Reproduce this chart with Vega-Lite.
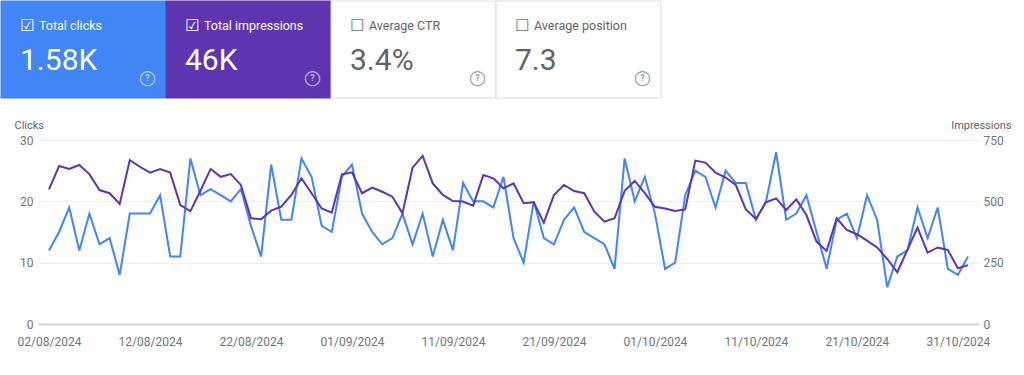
{
  "$schema": "https://vega.github.io/schema/vega-lite/v6.json",
  "padding": 0,
  "background": "white",
  "spacing": 20,
  "config": {
    "font": "Roboto",
    "view": {"stroke": null},
    "axis": {"labelFont": "Roboto", "titleFont": "Roboto"}
  },
  "vconcat": [
    {
      "width": 660,
      "height": 97,
      "data": {"values": [
        {"metric": "Total clicks", "value": "1.58K", "selected": true},
        {"metric": "Total impressions", "value": "46K", "selected": true},
        {"metric": "Average CTR", "value": "3.4%", "selected": false},
        {"metric": "Average position", "value": "7.3", "selected": false}
      ]},
      "encoding": {
        "x": {"field": "metric", "type": "nominal", "sort": null, "axis": null,
              "scale": {"type": "band", "paddingInner": 0, "paddingOuter": 0}}
      },
      "layer": [
        {
          "mark": {"type": "rect", "strokeWidth": 1},
          "encoding": {
            "fill": {"field": "metric", "type": "nominal", "legend": null,
                     "scale": {"domain": ["Total clicks", "Total impressions", "Average CTR", "Average position"],
                               "range": ["#4285f4", "#5e35b1", "#ffffff", "#ffffff"]}},
            "stroke": {"field": "metric", "type": "nominal", "legend": null,
                     "scale": {"domain": ["Total clicks", "Total impressions", "Average CTR", "Average position"],
                               "range": ["#4285f4", "#5e35b1", "#dadce0", "#dadce0"]}}
          }
        },
        {
          "mark": {"type": "text", "font": "DejaVu Sans", "fontSize": 16, "align": "center", "baseline": "middle", "dx": 26.5, "dy": -23.5},
          "encoding": {
            "x": {"field": "metric", "type": "nominal", "sort": null, "bandPosition": 0},
            "text": {"condition": {"test": "datum.selected", "value": "☑"}, "value": "☐"},
            "color": {"condition": {"test": "datum.selected", "value": "#ffffff"}, "value": "#70757a"}
          }
        },
        {
          "mark": {"type": "text", "fontSize": 12.5, "align": "left", "baseline": "alphabetic", "dx": 38, "dy": -19.2},
          "encoding": {
            "x": {"field": "metric", "type": "nominal", "sort": null, "bandPosition": 0},
            "text": {"field": "metric"},
            "color": {"condition": {"test": "datum.selected", "value": "#ffffff"}, "value": "#5f6368"}
          }
        },
        {
          "mark": {"type": "text", "fontSize": 30, "align": "left", "baseline": "alphabetic", "dx": 19, "dy": 20.5},
          "encoding": {
            "x": {"field": "metric", "type": "nominal", "sort": null, "bandPosition": 0},
            "text": {"field": "value"},
            "color": {"condition": {"test": "datum.selected", "value": "#ffffff"}, "value": "#5f6368"}
          }
        },
        {
          "mark": {"type": "text", "font": "DejaVu Sans", "fontSize": 20, "align": "center", "baseline": "middle", "dx": 146.5, "dy": 28},
          "encoding": {
            "x": {"field": "metric", "type": "nominal", "sort": null, "bandPosition": 0},
            "text": {"value": "○"},
            "color": {"condition": {"test": "datum.selected", "value": "rgba(255,255,255,0.6)"}, "value": "#9aa0a6"}
          }
        },
        {
          "mark": {"type": "text", "fontSize": 9, "fontWeight": "bold", "align": "center", "baseline": "middle", "dx": 146.5, "dy": 28.5},
          "encoding": {
            "x": {"field": "metric", "type": "nominal", "sort": null, "bandPosition": 0},
            "text": {"value": "?"},
            "color": {"condition": {"test": "datum.selected", "value": "rgba(255,255,255,0.6)"}, "value": "#9aa0a6"}
          }
        }
      ]
    },
    {
      "spacing": 0,
      "hconcat": [
        {
          "width": 13,
          "height": 10,
          "data": {"values": [{"blank": ""}]},
          "mark": {"type": "text"},
          "encoding": {"text": {"field": "blank"}}
        },
        {
          "width": 941,
          "height": 184,
          "data": {"values": [
            {"date": "2024-08-02", "clicks": 12, "impressions": 549},
            {"date": "2024-08-03", "clicks": 15, "impressions": 644},
            {"date": "2024-08-04", "clicks": 19, "impressions": 632},
            {"date": "2024-08-05", "clicks": 12, "impressions": 648},
            {"date": "2024-08-06", "clicks": 18, "impressions": 611},
            {"date": "2024-08-07", "clicks": 13, "impressions": 546},
            {"date": "2024-08-08", "clicks": 14, "impressions": 533},
            {"date": "2024-08-09", "clicks": 8, "impressions": 489},
            {"date": "2024-08-10", "clicks": 18, "impressions": 668},
            {"date": "2024-08-11", "clicks": 18, "impressions": 641},
            {"date": "2024-08-12", "clicks": 18, "impressions": 617},
            {"date": "2024-08-13", "clicks": 21, "impressions": 632},
            {"date": "2024-08-14", "clicks": 11, "impressions": 617},
            {"date": "2024-08-15", "clicks": 11, "impressions": 485},
            {"date": "2024-08-16", "clicks": 27, "impressions": 460},
            {"date": "2024-08-17", "clicks": 21, "impressions": 543},
            {"date": "2024-08-18", "clicks": 22, "impressions": 632},
            {"date": "2024-08-19", "clicks": 21, "impressions": 600},
            {"date": "2024-08-20", "clicks": 20, "impressions": 611},
            {"date": "2024-08-21", "clicks": 22, "impressions": 567},
            {"date": "2024-08-22", "clicks": 16, "impressions": 431},
            {"date": "2024-08-23", "clicks": 11, "impressions": 427},
            {"date": "2024-08-24", "clicks": 26, "impressions": 462},
            {"date": "2024-08-25", "clicks": 17, "impressions": 478},
            {"date": "2024-08-26", "clicks": 17, "impressions": 526},
            {"date": "2024-08-27", "clicks": 27, "impressions": 594},
            {"date": "2024-08-28", "clicks": 24, "impressions": 533},
            {"date": "2024-08-29", "clicks": 16, "impressions": 471},
            {"date": "2024-08-30", "clicks": 15, "impressions": 454},
            {"date": "2024-08-31", "clicks": 24, "impressions": 610},
            {"date": "2024-09-01", "clicks": 26, "impressions": 618},
            {"date": "2024-09-02", "clicks": 18, "impressions": 533},
            {"date": "2024-09-03", "clicks": 15, "impressions": 556},
            {"date": "2024-09-04", "clicks": 13, "impressions": 539},
            {"date": "2024-09-05", "clicks": 14, "impressions": 519},
            {"date": "2024-09-06", "clicks": 18, "impressions": 451},
            {"date": "2024-09-07", "clicks": 13, "impressions": 637},
            {"date": "2024-09-08", "clicks": 18, "impressions": 685},
            {"date": "2024-09-09", "clicks": 11, "impressions": 573},
            {"date": "2024-09-10", "clicks": 17, "impressions": 526},
            {"date": "2024-09-11", "clicks": 12, "impressions": 501},
            {"date": "2024-09-12", "clicks": 23, "impressions": 499},
            {"date": "2024-09-13", "clicks": 20, "impressions": 482},
            {"date": "2024-09-14", "clicks": 20, "impressions": 607},
            {"date": "2024-09-15", "clicks": 19, "impressions": 594},
            {"date": "2024-09-16", "clicks": 24, "impressions": 553},
            {"date": "2024-09-17", "clicks": 14, "impressions": 573},
            {"date": "2024-09-18", "clicks": 10, "impressions": 492},
            {"date": "2024-09-19", "clicks": 20, "impressions": 496},
            {"date": "2024-09-20", "clicks": 14, "impressions": 413},
            {"date": "2024-09-21", "clicks": 13, "impressions": 526},
            {"date": "2024-09-22", "clicks": 17, "impressions": 567},
            {"date": "2024-09-23", "clicks": 19, "impressions": 542},
            {"date": "2024-09-24", "clicks": 15, "impressions": 533},
            {"date": "2024-09-25", "clicks": 14, "impressions": 458},
            {"date": "2024-09-26", "clicks": 13, "impressions": 417},
            {"date": "2024-09-27", "clicks": 9, "impressions": 431},
            {"date": "2024-09-28", "clicks": 27, "impressions": 543},
            {"date": "2024-09-29", "clicks": 20, "impressions": 583},
            {"date": "2024-09-30", "clicks": 24, "impressions": 533},
            {"date": "2024-10-01", "clicks": 18, "impressions": 478},
            {"date": "2024-10-02", "clicks": 9, "impressions": 471},
            {"date": "2024-10-03", "clicks": 10, "impressions": 461},
            {"date": "2024-10-04", "clicks": 21, "impressions": 467},
            {"date": "2024-10-05", "clicks": 25, "impressions": 666},
            {"date": "2024-10-06", "clicks": 24, "impressions": 658},
            {"date": "2024-10-07", "clicks": 19, "impressions": 617},
            {"date": "2024-10-08", "clicks": 25, "impressions": 597},
            {"date": "2024-10-09", "clicks": 23, "impressions": 567},
            {"date": "2024-10-10", "clicks": 23, "impressions": 467},
            {"date": "2024-10-11", "clicks": 17, "impressions": 428},
            {"date": "2024-10-12", "clicks": 20, "impressions": 496},
            {"date": "2024-10-13", "clicks": 28, "impressions": 512},
            {"date": "2024-10-14", "clicks": 17, "impressions": 465},
            {"date": "2024-10-15", "clicks": 18, "impressions": 508},
            {"date": "2024-10-16", "clicks": 21, "impressions": 444},
            {"date": "2024-10-17", "clicks": 15, "impressions": 336},
            {"date": "2024-10-18", "clicks": 9, "impressions": 298},
            {"date": "2024-10-19", "clicks": 17, "impressions": 431},
            {"date": "2024-10-20", "clicks": 18, "impressions": 383},
            {"date": "2024-10-21", "clicks": 14, "impressions": 366},
            {"date": "2024-10-22", "clicks": 21, "impressions": 340},
            {"date": "2024-10-23", "clicks": 17, "impressions": 312},
            {"date": "2024-10-24", "clicks": 6, "impressions": 265},
            {"date": "2024-10-25", "clicks": 11, "impressions": 211},
            {"date": "2024-10-26", "clicks": 12, "impressions": 302},
            {"date": "2024-10-27", "clicks": 19, "impressions": 393},
            {"date": "2024-10-28", "clicks": 14, "impressions": 291},
            {"date": "2024-10-29", "clicks": 19, "impressions": 312},
            {"date": "2024-10-30", "clicks": 9, "impressions": 302},
            {"date": "2024-10-31", "clicks": 8, "impressions": 227},
            {"date": "2024-11-01", "clicks": 11, "impressions": 240}
          ]},
          "encoding": {
            "x": {
              "field": "date", "type": "temporal",
              "scale": {"type": "utc", "padding": 11},
              "axis": {
                "title": null,
                "format": "%d/%m/%Y",
                "values": [
                  {"year": 2024, "month": 8, "date": 2, "utc": true},
                  {"year": 2024, "month": 8, "date": 12, "utc": true},
                  {"year": 2024, "month": 8, "date": 22, "utc": true},
                  {"year": 2024, "month": 9, "date": 1, "utc": true},
                  {"year": 2024, "month": 9, "date": 11, "utc": true},
                  {"year": 2024, "month": 9, "date": 21, "utc": true},
                  {"year": 2024, "month": 10, "date": 1, "utc": true},
                  {"year": 2024, "month": 10, "date": 11, "utc": true},
                  {"year": 2024, "month": 10, "date": 21, "utc": true},
                  {"year": 2024, "month": 10, "date": 31, "utc": true}
                ],
                "grid": false,
                "ticks": false,
                "domain": true,
                "domainColor": "#d3d3d3",
                "domainWidth": 2,
                "labelPadding": 12,
                "labelFlush": false,
                "labelOverlap": false,
                "labelFontSize": 12,
                "labelColor": "#70757a"
              }
            }
          },
          "layer": [
            {
              "mark": {"type": "line", "color": "#4285f4", "strokeWidth": 2},
              "encoding": {
                "y": {
                  "field": "clicks", "type": "quantitative",
                  "scale": {"domain": [0, 30], "nice": false},
                  "axis": {
                    "values": [0, 10, 20, 30],
                    "domain": false,
                    "ticks": false,
                    "labelPadding": 5,
                    "labelFontSize": 12,
                    "labelColor": "#70757a",
                    "grid": true,
                    "gridColor": "#eeeeee",
                    "title": "Clicks",
                    "titleAngle": 0,
                    "titleX": -24,
                    "titleY": -12,
                    "titleAlign": "left",
                    "titleBaseline": "alphabetic",
                    "titleFontSize": 11,
                    "titleFontWeight": "normal",
                    "titleColor": "#5f6368"
                  }
                }
              }
            },
            {
              "mark": {"type": "line", "color": "#5e35b1", "strokeWidth": 2},
              "encoding": {
                "y": {
                  "field": "impressions", "type": "quantitative",
                  "scale": {"domain": [0, 750], "nice": false},
                  "axis": {
                    "orient": "right",
                    "values": [0, 250, 500, 750],
                    "domain": false,
                    "ticks": false,
                    "labelPadding": 4,
                    "labelFontSize": 12,
                    "labelColor": "#70757a",
                    "grid": false,
                    "title": "Impressions",
                    "titleAngle": 0,
                    "titleX": 32,
                    "titleY": -12,
                    "titleAlign": "right",
                    "titleBaseline": "alphabetic",
                    "titleFontSize": 11,
                    "titleFontWeight": "normal",
                    "titleColor": "#5f6368"
                  }
                }
              }
            }
          ],
          "resolve": {"scale": {"y": "independent"}}
        }
      ]
    }
  ]
}
